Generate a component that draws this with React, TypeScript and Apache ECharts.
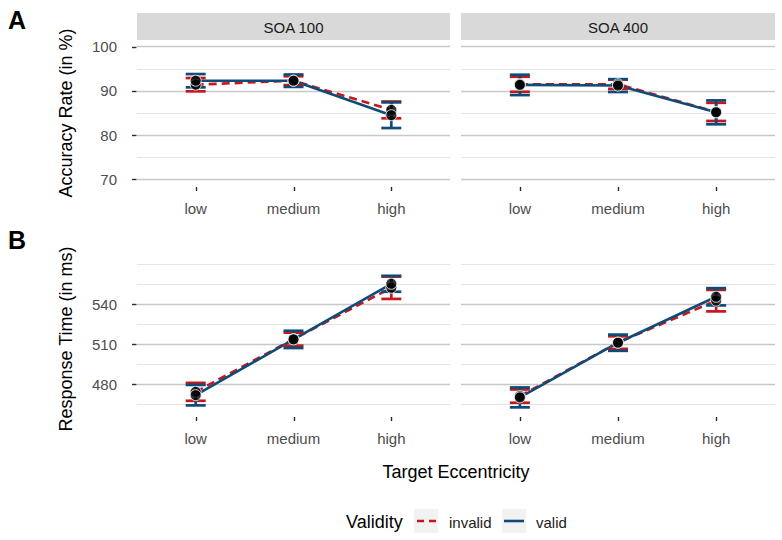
import React, { useEffect, useRef } from 'react';
import * as echarts from 'echarts';

const CATEGORIES = ['low', 'medium', 'high'];
const PANELS = ['SOA 100', 'SOA 400'];
const ACC_TICKS = [70, 80, 90, 100];
const ACC_MINOR = [75, 85, 95];
const RT_TICKS = [480, 510, 540];
const RT_MINOR = [465, 495, 525, 555, 570];

const ACC_SOA100_VALID = [92.3, 92.3, 84.5];
const ACC_SOA100_VALID_CI = [1.5, 1.4, 2.9];
const ACC_SOA100_INVALID = [91.4, 92.3, 85.7];
const ACC_SOA100_INVALID_CI = [1.5, 1.0, 1.9];
const ACC_SOA400_VALID = [91.35, 91.2, 85.15];
const ACC_SOA400_VALID_CI = [2.3, 1.45, 2.7];
const ACC_SOA400_INVALID = [91.5, 91.5, 85.25];
const ACC_SOA400_INVALID_CI = [1.7, 1.05, 2.05];

const RT_SOA100_VALID = [471.7, 513.7, 555.6];
const RT_SOA100_VALID_CI = [7.7, 6.5, 6.0];
const RT_SOA100_INVALID = [474.2, 513.9, 552.6];
const RT_SOA100_INVALID_CI = [6.75, 4.9, 8.4];
const RT_SOA400_VALID = [470.0, 511.2, 545.8];
const RT_SOA400_VALID_CI = [7.5, 6.1, 6.5];
const RT_SOA400_INVALID = [471.0, 511.3, 542.9];
const RT_SOA400_INVALID_CI = [5.0, 4.75, 8.1];

const FONT = '"Liberation Sans", Arial, Helvetica, sans-serif';
const RED = '#C8161D';
const BLUE = '#0E4C77';
const TICK_COLOR = '#2B2B2B';

type Panel = {
  valid: number[]; validCi: number[]; invalid: number[]; invalidCi: number[];
};

const PANEL_DATA: Panel[] = [
  { valid: ACC_SOA100_VALID, validCi: ACC_SOA100_VALID_CI, invalid: ACC_SOA100_INVALID, invalidCi: ACC_SOA100_INVALID_CI },
  { valid: ACC_SOA400_VALID, validCi: ACC_SOA400_VALID_CI, invalid: ACC_SOA400_INVALID, invalidCi: ACC_SOA400_INVALID_CI },
  { valid: RT_SOA100_VALID, validCi: RT_SOA100_VALID_CI, invalid: RT_SOA100_INVALID, invalidCi: RT_SOA100_INVALID_CI },
  { valid: RT_SOA400_VALID, validCi: RT_SOA400_VALID_CI, invalid: RT_SOA400_INVALID, invalidCi: RT_SOA400_INVALID_CI },
];

const GRID_LEFTS = [137, 461];
const GRID_WIDTHS = [313, 314];
const ROW_TOPS = [40, 262];
const ROW_HEIGHTS = [146, 154];
const ROW_MIN = [68.5, 456];
const ROW_MAX = [101.5, 572];
const X_MIN = -0.6;
const X_MAX = 2.6;

function buildGraphic(): any[] {
  const graphic: any[] = [];
  PANELS.forEach((p, col) => {
    graphic.push({
      type: 'rect', left: GRID_LEFTS[col], top: 13,
      shape: { width: GRID_WIDTHS[col], height: 27 },
      style: { fill: '#D9D9D9' },
    });
    graphic.push({
      type: 'text', x: GRID_LEFTS[col] + GRID_WIDTHS[col] / 2, y: 27,
      style: { text: p, fill: '#1A1A1A', font: `15px ${FONT}`, align: 'center', verticalAlign: 'middle' },
    });
  });
  graphic.push({ type: 'text', x: 8, y: 20, style: { text: 'A', fill: '#000', font: `bold 25px ${FONT}`, verticalAlign: 'middle' } });
  graphic.push({ type: 'text', x: 8, y: 240, style: { text: 'B', fill: '#000', font: `bold 25px ${FONT}`, verticalAlign: 'middle' } });
  graphic.push({
    type: 'text', x: 66, y: 113, rotation: Math.PI / 2,
    style: { text: 'Accuracy Rate (in %)', fill: '#000', font: `18px ${FONT}`, align: 'center', verticalAlign: 'middle' },
  });
  graphic.push({
    type: 'text', x: 66, y: 339, rotation: Math.PI / 2,
    style: { text: 'Response Time (in ms)', fill: '#000', font: `18px ${FONT}`, align: 'center', verticalAlign: 'middle' },
  });
  graphic.push({
    type: 'text', x: 456, y: 472,
    style: { text: 'Target Eccentricity', fill: '#000', font: `18px ${FONT}`, align: 'center', verticalAlign: 'middle' },
  });
  graphic.push({ type: 'text', x: 346, y: 522, style: { text: 'Validity', fill: '#000', font: `18px ${FONT}`, verticalAlign: 'middle' } });
  graphic.push({ type: 'rect', x: 414, y: 509, shape: { width: 24, height: 24 }, style: { fill: '#F2F2F2' } });
  graphic.push({ type: 'line', shape: { x1: 417, y1: 521, x2: 436, y2: 521 }, style: { stroke: RED, lineWidth: 2.6, lineDash: [7, 5] } });
  graphic.push({ type: 'text', x: 449, y: 522, style: { text: 'invalid', fill: '#1A1A1A', font: `15px ${FONT}`, verticalAlign: 'middle' } });
  graphic.push({ type: 'rect', x: 502, y: 509, shape: { width: 24, height: 24 }, style: { fill: '#F2F2F2' } });
  graphic.push({ type: 'line', shape: { x1: 504, y1: 521, x2: 524, y2: 521 }, style: { stroke: BLUE, lineWidth: 2.6 } });
  graphic.push({ type: 'text', x: 536, y: 522, style: { text: 'valid', fill: '#1A1A1A', font: `15px ${FONT}`, verticalAlign: 'middle' } });
  return graphic;
}

function buildOption() {
  const grids: any[] = [];
  const xAxes: any[] = [];
  const yAxes: any[] = [];
  const series: any[] = [];

  for (let g = 0; g < 4; g++) {
    const row = g < 2 ? 0 : 1;
    const col = g % 2;
    grids.push({
      left: GRID_LEFTS[col], width: GRID_WIDTHS[col], top: ROW_TOPS[row], height: ROW_HEIGHTS[row],
      outerBoundsMode: 'none', containLabel: false,
    });
    xAxes.push({
      type: 'value', gridIndex: g, min: X_MIN, max: X_MAX, position: 'bottom',
      axisLine: { show: false, onZero: false },
      splitLine: { show: false },
      axisTick: { show: false, customValues: [0, 1, 2] },
      axisLabel: {
        customValues: [0, 1, 2], formatter: (v: number) => CATEGORIES[Math.round(v)],
        color: '#4D4D4D', fontSize: 15, fontFamily: FONT, margin: 15, lineHeight: 15,
      },
    });
    const major = row === 0 ? ACC_TICKS : RT_TICKS;
    const minor = row === 0 ? ACC_MINOR : RT_MINOR;
    yAxes.push({
      type: 'value', gridIndex: g, min: ROW_MIN[row], max: ROW_MAX[row], position: 'left',
      axisLine: { show: false, onZero: false },
      axisTick: { show: false, customValues: major },
      axisLabel: {
        show: col === 0, customValues: major, color: '#4D4D4D', fontSize: 15, fontFamily: FONT, margin: 20,
      },
      splitLine: { show: true, lineStyle: { color: '#C8C8C8', width: 1.3 } },
      z: 1,
    });
    yAxes.push({
      type: 'value', gridIndex: g, min: ROW_MIN[row], max: ROW_MAX[row], position: 'left',
      axisLine: { show: false, onZero: false },
      axisTick: { show: false, customValues: minor },
      axisLabel: { show: false, customValues: minor },
      splitLine: { show: true, lineStyle: { color: '#DDDDDD', width: 0.8 } },
      z: 0,
    });

    const pd = PANEL_DATA[g];
    const groups = [
      { name: 'invalid', vals: pd.invalid, ci: pd.invalidCi, color: RED, dashed: true },
      { name: 'valid', vals: pd.valid, ci: pd.validCi, color: BLUE, dashed: false },
    ];
    groups.forEach((gr) => {
      series.push({
        type: 'line', name: gr.name, xAxisIndex: g, yAxisIndex: 2 * g,
        data: gr.vals.map((v, i) => [i, v]),
        showSymbol: false, symbol: 'none', z: 3,
        lineStyle: { color: gr.color, width: 2.6, type: gr.dashed ? [8, 5] : 'solid', cap: 'butt' },
        silent: true,
      });
    });
    groups.forEach((gr) => {
      series.push({
        type: 'custom', name: gr.name + '-err', xAxisIndex: g, yAxisIndex: 2 * g,
        data: gr.vals.map((v, i) => [i, v - gr.ci[i], v + gr.ci[i]]),
        encode: { x: 0, y: [1, 2] },
        z: 4, silent: true,
        renderItem: (params: any, api: any) => {
          const x = api.value(0);
          const lo = api.coord([x, api.value(1)]);
          const hi = api.coord([x, api.value(2)]);
          const hw = 10;
          const st = { stroke: gr.color, lineWidth: 2.7, fill: 'none' };
          return {
            type: 'group',
            children: [
              { type: 'line', shape: { x1: hi[0], y1: hi[1], x2: lo[0], y2: lo[1] }, style: st },
              { type: 'line', shape: { x1: hi[0] - hw, y1: hi[1], x2: hi[0] + hw, y2: hi[1] }, style: st },
              { type: 'line', shape: { x1: lo[0] - hw, y1: lo[1], x2: lo[0] + hw, y2: lo[1] }, style: st },
            ],
          };
        },
      });
    });
    groups.forEach((gr) => {
      series.push({
        type: 'scatter', name: gr.name + '-pt', xAxisIndex: g, yAxisIndex: 2 * g,
        data: gr.vals.map((v, i) => [i, v]),
        symbol: 'circle', symbolSize: 11, z: 5, silent: true,
        itemStyle: { color: '#000000', borderColor: '#FFFFFF', borderWidth: 1 },
      });
    });
  }

  return {
    animation: false,
    backgroundColor: '#FFFFFF',
    textStyle: { fontFamily: FONT },
    grid: grids,
    xAxis: xAxes,
    yAxis: yAxes,
    series,
    graphic: buildGraphic(),
  };
}

function toPixel(chart: any, g: number, xv: number, yv: number): number[] {
  const row = g < 2 ? 0 : 1;
  const col = g % 2;
  let p: any = null;
  try { p = chart.convertToPixel({ gridIndex: g }, [xv, yv]); } catch (e) { p = null; }
  if (p && isFinite(p[0]) && isFinite(p[1])) return p;
  const x = GRID_LEFTS[col] + ((xv - X_MIN) / (X_MAX - X_MIN)) * GRID_WIDTHS[col];
  const y = ROW_TOPS[row] + ((ROW_MAX[row] - yv) / (ROW_MAX[row] - ROW_MIN[row])) * ROW_HEIGHTS[row];
  return [x, y];
}

function tickGraphics(chart: any): any[] {
  const out: any[] = [];
  for (let g = 0; g < 4; g++) {
    const row = g < 2 ? 0 : 1;
    const col = g % 2;
    const major = row === 0 ? ACC_TICKS : RT_TICKS;
    CATEGORIES.forEach((_, i) => {
      const p = toPixel(chart, g, i, ROW_MIN[row]);
      const x = Math.round(p[0]) + 0.5;
      out.push({
        type: 'line', silent: true, z: 10,
        shape: { x1: x, y1: p[1] + 1, x2: x, y2: p[1] + 5 },
        style: { stroke: TICK_COLOR, lineWidth: 1.4 },
      });
    });
    if (col === 0) {
      major.forEach((v) => {
        const p = toPixel(chart, g, X_MIN, v);
        const y = Math.round(p[1]) + 0.5;
        out.push({
          type: 'line', silent: true, z: 10,
          shape: { x1: p[0] - 5, y1: y, x2: p[0] - 0.5, y2: y },
          style: { stroke: TICK_COLOR, lineWidth: 1.4 },
        });
      });
    }
  }
  return out;
}

export default function App() {
  const ref = useRef<HTMLDivElement>(null);
  useEffect(() => {
    if (!ref.current) return;
    const chart = echarts.init(ref.current, undefined, { renderer: 'svg' });
    chart.setOption(buildOption() as any);
    const ticks = tickGraphics(chart);
    chart.setOption({ graphic: [...buildGraphic(), ...ticks] } as any);
    return () => chart.dispose();
  }, []);
  return (
    <div
      ref={ref}
      style={{ position: 'fixed', left: 0, top: 0, width: 782, height: 540, background: '#fff' }}
    />
  );
}
